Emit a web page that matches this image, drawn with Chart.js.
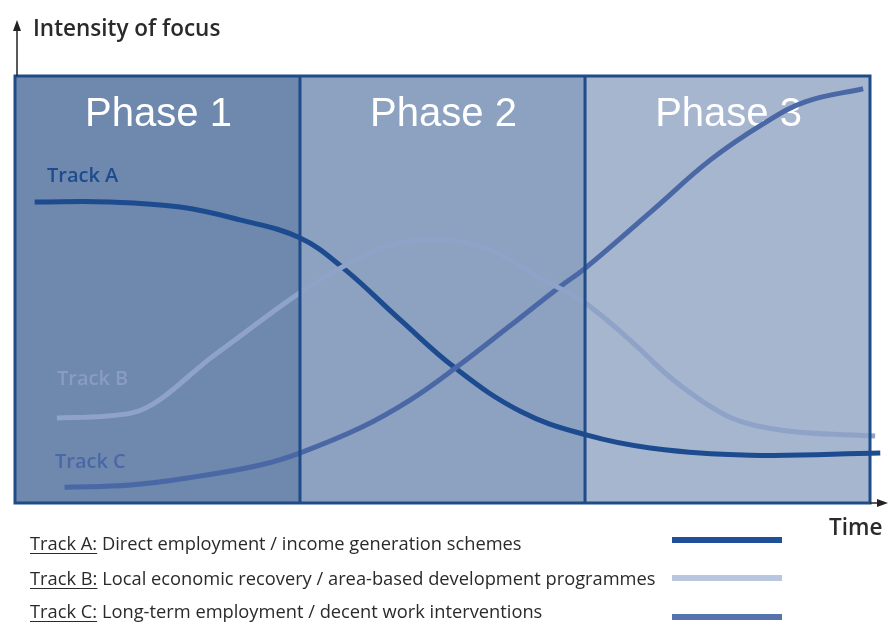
<!DOCTYPE html>
<html>
<head>
<meta charset="utf-8">
<script src="https://cdn.jsdelivr.net/npm/chart.js@4"></script>
<style>
  html, body { margin: 0; padding: 0; background: #fff; }
  #wrap { position: relative; width: 889px; height: 622px; overflow: hidden; }
  #chart { position: absolute; left: 0; top: 0; }
  .txt { position: absolute; font-family: "Open Sans", "Noto Sans", sans-serif; color: #2a2a2a; white-space: nowrap; }
  .axis { font-size: 22.5px; font-weight: 600; }
  .leg { font-size: 18.3px; left: 30px; }
  .leg u { text-decoration-thickness: 1px; text-underline-offset: 3px; }
  .swatch { position: absolute; left: 672px; width: 110px; height: 6px; }
</style>
</head>
<body>
<div id="wrap">
  <canvas id="chart" width="889" height="622"></canvas>
  <div class="txt axis" style="left:33px; top:12px;">Intensity of focus</div>
  <div class="txt axis" style="left:829px; top:511px;">Time</div>
  <div class="txt leg" style="top:530px;"><u>Track A:</u> Direct employment / income generation schemes</div>
  <div class="txt leg" style="top:565px;"><u>Track B:</u> Local economic recovery / area-based development programmes</div>
  <div class="txt leg" style="top:598px;"><u>Track C:</u> Long-term employment / decent work interventions</div>
  <div class="swatch" style="top:537px; background:#1f4f99;"></div>
  <div class="swatch" style="top:575px; background:#b9c6e0;"></div>
  <div class="swatch" style="top:614px; background:#5673ae;"></div>
</div>
<script>
// ====== DATA ======
const phaseNames  = ['Phase 1', 'Phase 2', 'Phase 3'];
const phaseBounds = [0, 33.33, 66.67, 100];

const timeA  = [2.3, 11.1, 19.3, 26.3, 33.3, 38.4, 45.0, 51.5, 59.1, 66.7, 74.3, 86.0, 101.2];
const trackA = [70.5, 70.5, 69.3, 66.3, 62.1, 55.0, 43.0, 31.6, 21.5, 16.0, 12.9, 11.2, 11.7];

const timeB  = [4.9, 13.7, 23.5, 33.3, 38.4, 43.9, 49.4, 55.6, 61.4, 66.7, 71.9, 77.0, 83.6, 89.5, 100.6];
const trackB = [19.9, 21.1, 34.9, 49.2, 55.4, 60.4, 61.6, 59.3, 52.7, 46.8, 38.2, 28.8, 20.1, 17.1, 15.7];

const timeC  = [5.8, 13.5, 21.6, 28.7, 33.3, 40.4, 46.2, 51.5, 57.9, 63.7, 66.7, 74.6, 81.3, 87.5, 92.5, 99.2];
const trackC = [3.7, 4.2, 6.3, 8.9, 11.7, 17.6, 24.1, 31.6, 41.5, 50.6, 55.0, 68.6, 80.3, 88.8, 94.0, 97.0];

const COLORS = {
    border: '#1f4b88',
    phases: ['#6f88ad', '#8da1c0', '#a7b6cf'],
    trackA: '#1d4b8f',
    trackB: '#8fa3c8',
    trackC: '#4a68a6',
};

const toPoints = (xs, ys) => xs.map((x, i) => ({ x: x, y: ys[i] }));

// ====== PLUGIN: phases, frame, labels ======
const phasePlugin = {
    id: 'phases',
    beforeDatasetsDraw(chart) {
        const { ctx, chartArea: a, scales: { x, y } } = chart;
        ctx.save();
        phaseNames.forEach((name, i) => {
            const x0 = x.getPixelForValue(phaseBounds[i]);
            const x1 = x.getPixelForValue(phaseBounds[i + 1]);
            ctx.fillStyle = COLORS.phases[i];
            ctx.fillRect(x0, a.top, x1 - x0, a.bottom - a.top);
            ctx.fillStyle = '#ffffff';
            ctx.font = '40px "Liberation Sans", Arial, sans-serif';
            ctx.textAlign = 'center';
            ctx.textBaseline = 'middle';
            ctx.fillText(name, (x0 + x1) / 2 + 1, a.top + 39);
        });
        // track names
        ctx.font = '600 20px "Open Sans", sans-serif';
        ctx.textAlign = 'left';
        ctx.textBaseline = 'middle';
        ctx.fillStyle = COLORS.trackA;
        ctx.fillText('Track A', 47, y.getPixelForValue(trackA[0]) - 26);
        ctx.fillStyle = '#8a9cc0';
        ctx.fillText('Track B', 57, y.getPixelForValue(trackB[0]) - 39);
        ctx.fillStyle = COLORS.trackC;
        ctx.fillText('Track C', 55, y.getPixelForValue(trackC[0]) - 25);
        ctx.restore();
    },
    afterDatasetsDraw(chart) {
        const { ctx, chartArea: a, scales: { x } } = chart;
        ctx.save();
        ctx.strokeStyle = COLORS.border;
        ctx.lineWidth = 3;
        for (let i = 1; i < phaseBounds.length - 1; i++) {
            const px = x.getPixelForValue(phaseBounds[i]);
            ctx.beginPath();
            ctx.moveTo(px, a.top);
            ctx.lineTo(px, a.bottom);
            ctx.stroke();
        }
        ctx.strokeRect(a.left, a.top, a.right - a.left, a.bottom - a.top);

        // axis arrows
        ctx.strokeStyle = '#222';
        ctx.fillStyle = '#222';
        ctx.lineWidth = 1.5;
        ctx.beginPath();
        ctx.moveTo(a.left + 2, a.top);
        ctx.lineTo(a.left + 2, 26);
        ctx.stroke();
        ctx.beginPath();
        ctx.moveTo(a.left + 2, 20);
        ctx.lineTo(a.left - 2, 31);
        ctx.lineTo(a.left + 6, 31);
        ctx.closePath();
        ctx.fill();

        ctx.beginPath();
        ctx.moveTo(a.right, a.bottom);
        ctx.lineTo(880, a.bottom);
        ctx.stroke();
        ctx.beginPath();
        ctx.moveTo(888, a.bottom);
        ctx.lineTo(877, a.bottom - 4);
        ctx.lineTo(877, a.bottom + 4);
        ctx.closePath();
        ctx.fill();
        ctx.restore();
    }
};

// ====== CHART ======
const lineStyle = { fill: false, pointRadius: 0, borderWidth: 5, tension: 0.4, clip: 20 };

new Chart(document.getElementById('chart'), {
    type: 'line',
    data: {
        datasets: [
            { label: 'Track B', data: toPoints(timeB, trackB), borderColor: COLORS.trackB, ...lineStyle, cubicInterpolationMode: 'monotone' },
            { label: 'Track C', data: toPoints(timeC, trackC), borderColor: COLORS.trackC, ...lineStyle },
            { label: 'Track A', data: toPoints(timeA, trackA), borderColor: COLORS.trackA, ...lineStyle },
        ]
    },
    options: {
        responsive: false,
        animation: false,
        layout: { padding: { left: 15, right: 19, top: 76, bottom: 119 } },
        plugins: { legend: { display: false }, tooltip: { enabled: false } },
        scales: {
            x: { type: 'linear', min: 0, max: 100, display: false },
            y: { min: 0, max: 100, display: false }
        }
    },
    plugins: [phasePlugin]
});
</script>
</body>
</html>
